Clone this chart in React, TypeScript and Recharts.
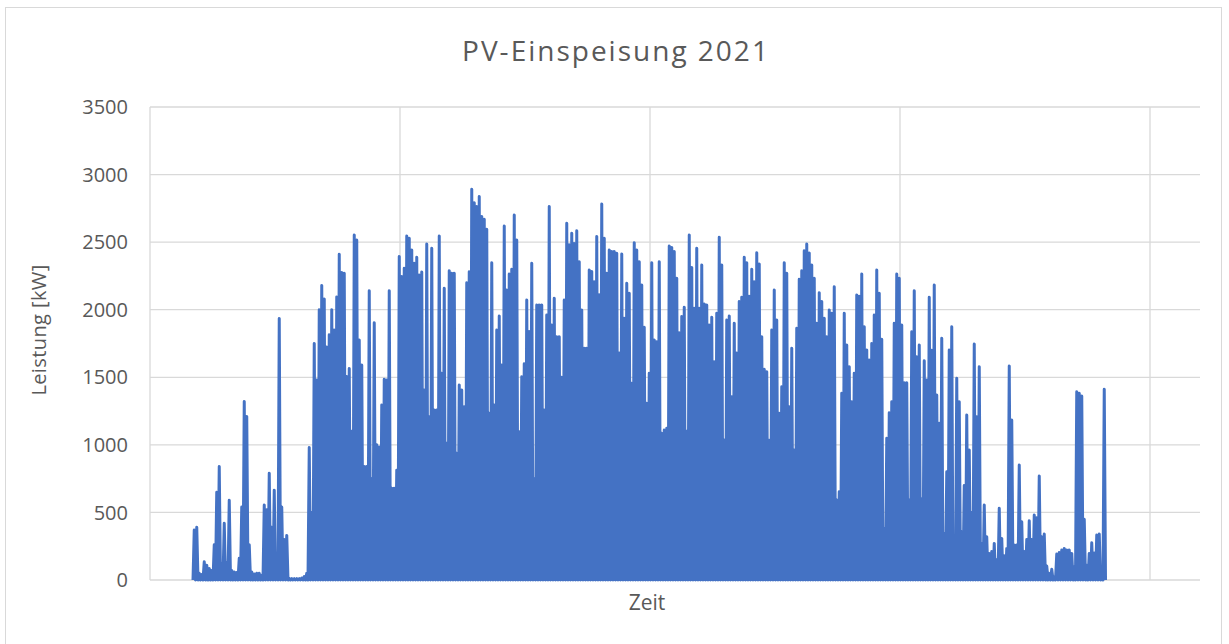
import { LineChart, Line, XAxis, YAxis, CartesianGrid } from 'recharts'

// daily peak output in kW (one value per day)
const janToMarPeaks = [
  370, 390, 50, 40, 135, 110, 85, 70, 260, 650,
  840, 120, 420, 130, 590, 70, 60, 55, 160, 540,
  1320, 1210, 260, 60, 45, 50, 50, 35, 555, 520,
  790, 390, 665, 200, 1935, 540, 300, 330, 12, 10,
  10, 10, 10, 15, 25, 50, 980, 500, 1750, 1480,
  2000, 2180, 2080, 1725, 1815, 2000, 1850, 2095, 2410, 2275,
  2270, 1505, 1565, 1100, 2553, 2516, 1775, 1590, 840, 840,
  2141, 750, 1904, 1000, 985, 1295, 1485, 1480, 2140, 678,
  678, 813, 2393, 2245, 2306, 2545, 2528, 2442, 2343, 2388,
]
const aprToJunPeaks = [
  2257, 2279, 1406, 2486, 1208, 2454, 1258, 1258, 2545, 1529,
  2158, 1011, 2289, 2269, 2269, 937, 1443, 1406, 1282, 2200,
  2281, 2891, 2792, 2763, 2837, 2689, 2669, 2595, 1233, 2348,
  1295, 1850, 1953, 1591, 2620, 2146, 2264, 2300, 2701, 2516,
  1097, 1504, 1600, 2072, 1838, 2343, 750, 2035, 2035, 2035,
  1258, 1961, 2763, 1887, 2084, 1800, 1800, 1500, 2072, 2639,
  2480, 2565, 2490, 2585, 2355, 1998, 1714, 1714, 2294, 2282,
  2207, 2541, 2110, 2782, 2528, 2269, 2442, 2430, 2430, 2417,
  1680, 2412, 1937, 2195, 2121, 1455, 2496, 2442, 2355, 2183,
  1870,
]
const julToSepPeaks = [
  1307, 1529, 2348, 1775, 1763, 2355, 1085, 1110, 1122,
  2471, 2460, 2430, 2232, 1830, 1949, 2018, 1100, 2553, 2313,
  2010, 2454, 2010, 2331, 2042, 2035, 1887, 1944, 1615, 1973,
  2536, 2331, 1036, 1924, 1953, 1356, 1899, 1680, 2060, 2092,
  2388, 2348, 2100, 2299, 2207, 2422, 2338, 1800, 1559, 1541,
  1035, 1850, 2146, 1924, 1233, 1430, 2348, 2269, 1282, 1714,
  962, 1862, 2225, 2289, 2437, 2486, 2420, 2331, 2232, 1900,
  2126, 2060, 1936, 1800, 1998, 1973, 2170, 592, 653, 1381,
  1973, 1739, 1578, 1319, 1529, 2109, 2100, 2264, 1874, 1702,
  1628, 1750, 1961,
]
const octToDecPeaks = [
  2294, 2121, 1781, 382, 1048, 1238, 1319,
  1900, 2264, 2232, 1887, 1460, 1460, 592, 1837, 2141, 1652,
  1739, 600, 1623, 1480, 2092, 1700, 2183, 1369, 1160, 1788,
  345, 801, 1702, 1874, 200, 1492, 1319, 357, 700, 1221,
  962, 500, 1746, 1208, 1578, 271, 555, 320, 197, 210,
  271, 150, 530, 308, 180, 234, 1583, 1184, 259, 259,
  851, 431, 210, 300, 439, 300, 481, 460, 769, 320,
  340, 103, 49, 79, 20, 192, 204, 222, 234, 222,
  222, 197, 100, 1393, 1381, 1362, 449, 110, 197, 276,
  200, 333, 340, 80, 1411,
]

const yTicks = [0, 500, 1000, 1500, 2000, 2500, 3000, 3500]
const xDomain: [number, number] = [-17.2, 402.8]
const xGridDays = [-17.2, 82.8, 182.8, 282.8, 382.8]

const dailyPeaks = [...janToMarPeaks, ...aprToJunPeaks, ...julToSepPeaks, ...octToDecPeaks]
// night readings are zero, so each day goes 0 -> peak -> 0
const chartData = dailyPeaks
  .flatMap((kw, day) => [{ t: day, kw: 0 }, { t: day + 0.5, kw }])
  .concat([{ t: dailyPeaks.length, kw: 0 }])

const textColor = '#595959'
const font = '"Open Sans", sans-serif'

// vertical grid lines at the category gridline days, mapped through the x domain
const verticalGrid = ({ xAxis, offset }: any) => {
  if (xAxis && typeof xAxis.scale === 'function') return xGridDays.map(d => xAxis.scale(d))
  const span = xDomain[1] - xDomain[0]
  return xGridDays.map(d => offset.left + ((d - xDomain[0]) / span) * offset.width)
}

export default function App() {
  return (
    <div style={{ position: 'absolute', left: 0, top: 0, width: 1229, height: 644, background: '#fff', overflow: 'hidden', fontFamily: font }}>
      <div style={{ position: 'absolute', left: 5, top: 7, width: 1217, height: 660, border: '1px solid #d9d9d9', boxSizing: 'border-box' }} />
      <LineChart width={1229} height={644} data={chartData} margin={{ top: 107, right: 29, bottom: 64, left: 0 }}>
        <CartesianGrid stroke="#d9d9d9" strokeWidth={1.3} verticalCoordinatesGenerator={verticalGrid} />
        <XAxis
          type="number"
          dataKey="t"
          domain={xDomain}
          ticks={xGridDays}
          tick={false}
          tickLine={false}
          axisLine={{ stroke: '#d9d9d9', strokeWidth: 1.3 }}
          height={0}
        />
        <YAxis
          domain={[0, 3500]}
          ticks={yTicks}
          width={150}
          axisLine={false}
          tickLine={false}
          tickSize={0}
          tickMargin={22}
          tick={{ fill: textColor, fontSize: 20, fontFamily: font }}
        />
        <Line type="linear" dataKey="kw" stroke="#4472C4" strokeWidth={3} strokeLinejoin="round" dot={false} isAnimationActive={false} />
      </LineChart>
      <svg width={1229} height={644} style={{ position: 'absolute', left: 0, top: 0, pointerEvents: 'none' }}>
        <text x={616} y={61} textAnchor="middle" fill={textColor} fontSize={28} letterSpacing={2} fontFamily={font}>
          PV-Einspeisung 2021
        </text>
        <text x={647} y={610} textAnchor="middle" fill={textColor} fontSize={21} fontFamily={font}>
          Zeit
        </text>
        <text x={46} y={330} transform="rotate(-90 46 330)" textAnchor="middle" fill={textColor} fontSize={20} letterSpacing={0.4} fontFamily={font}>
          Leistung [kW]
        </text>
      </svg>
    </div>
  )
}
